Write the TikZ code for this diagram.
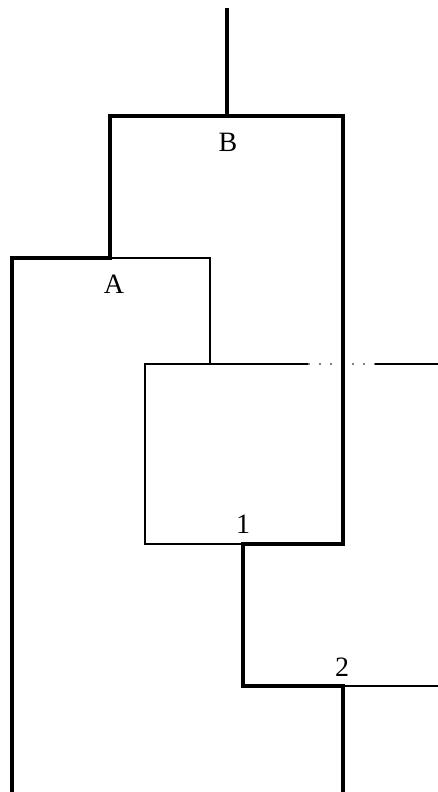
\documentclass[tikz,border=0pt]{standalone}
\usepackage{fontspec}
\setmainfont{Liberation Serif}
\usetikzlibrary{positioning}

\begin{document}
\begin{tikzpicture}[x=1pt,y=-1pt,
  heavy/.style={line width=4.8pt,line join=miter},
  light/.style={line width=1.3pt},
  faint/.style={line width=1.6pt,dash pattern=on 2pt off 9pt,gray},
  lbl/.style={font=\fontsize{28}{30}\selectfont,inner sep=0pt},
]
\useasboundingbox (0,0) rectangle (438,792);
% junctions of the tree
\coordinate (root) at (227,8);
\coordinate (jB) at (227,116);
\coordinate (bl) at (110,116);
\coordinate (br) at (343,116);
\coordinate (jA) at (110,258);
\coordinate (al) at (12,258);
\coordinate (ar) at (210,258);
\coordinate (aend) at (12,792);
\coordinate (boxtr) at (210,364);
\coordinate (boxtl) at (145,364);
\coordinate (boxbl) at (145,544);
\coordinate (j1) at (243,544);
\coordinate (r1) at (343,544);
\coordinate (j2) at (243,686);
\coordinate (r2) at (343,686);
\coordinate (end2) at (343,792);
\coordinate (dotA) at (308,364);
\coordinate (dotB) at (375,364);
\coordinate (outA) at (438,364);
\coordinate (out2) at (438,686);

% labels
\node[lbl] (labB) at (228,142) {B};
\node[lbl] (labA) at (114,284) {A};
\node[lbl] (lab1) at (243,524) {1};
\node[lbl] (lab2) at (342,667) {2};

% thin branches
\draw[light] (jA) -- (ar) -- (boxtr);
\draw[light] (dotA) -- (boxtl) -- (boxbl) -- (j1);
\draw[faint] (dotA) -- (dotB);
\draw[light] (dotB) -- (outA);
\draw[light] (r2) -- (out2);

% thick path
\draw[heavy] (root) -- (jB);
\draw[heavy] (aend) -- (al) -- (jA) -- (bl) -- (br) -- (r1) -- (j1)
  -- (j2) -- (r2) -- (end2);
\end{tikzpicture}
\end{document}
